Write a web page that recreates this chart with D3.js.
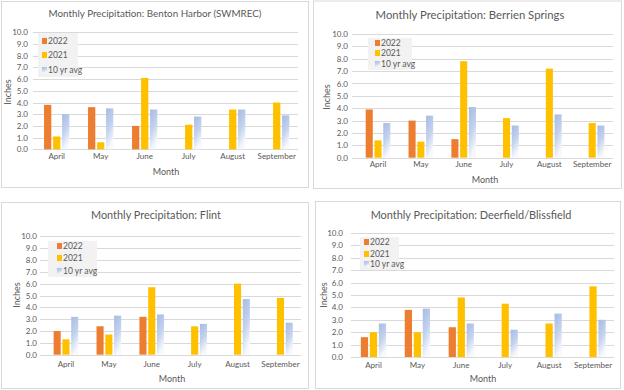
<!DOCTYPE html>
<html><head><meta charset="utf-8">
<script src="https://cdn.jsdelivr.net/npm/d3@7"></script>
<style>
html,body{margin:0;padding:0;background:#fff;}
svg{display:block;}
text{font-family:"Lato","Open Sans","Liberation Sans",sans-serif;fill:#595959;}
</style></head>
<body>
<svg id="chart" width="624" height="390"></svg>
<script>
// ---- DATA ----
const months = ["April","May","June","July","August","September"];
const seriesNames = ["2022","2021","10 yr avg"];
const yTicks = [0,1,2,3,4,5,6,7,8,9,10];
const titles = [
  "Monthly Precipitation: Benton Harbor (SWMREC)",
  "Monthly Precipitation: Berrien Springs",
  "Monthly Precipitation: Flint",
  "Monthly Precipitation: Deerfield/Blissfield"
];
const bentonHarbor2022 = [3.8, 3.6, 2.0, null, null, null];
const bentonHarbor2021 = [1.1, 0.6, 6.1, 2.1, 3.4, 4.0];
const bentonHarborAvg  = [3.0, 3.5, 3.4, 2.8, 3.4, 2.9];
const berrien2022 = [3.9, 3.0, 1.5, null, null, null];
const berrien2021 = [1.4, 1.3, 7.8, 3.2, 7.2, 2.8];
const berrienAvg  = [2.8, 3.4, 4.1, 2.6, 3.5, 2.6];
const flint2022 = [2.0, 2.4, 3.2, null, null, null];
const flint2021 = [1.3, 1.7, 5.7, 2.4, 6.0, 4.8];
const flintAvg  = [3.2, 3.3, 3.4, 2.6, 4.7, 2.7];
const deerfield2022 = [1.6, 3.8, 2.4, null, null, null];
const deerfield2021 = [2.0, 2.0, 4.8, 4.3, 2.7, 5.7];
const deerfieldAvg  = [2.7, 3.9, 2.7, 2.2, 3.5, 3.0];

const stationData = [
  [bentonHarbor2022, bentonHarbor2021, bentonHarborAvg],
  [berrien2022, berrien2021, berrienAvg],
  [flint2022, flint2021, flintAvg],
  [deerfield2022, deerfield2021, deerfieldAvg]
];

// ---- LAYOUT ----
const layouts = [
  {border:[1,1,308,187], tx:155, ty:17, tw:213, y0:149.3, y10:32.3, grid:[33,298], band:[34.7,298.7], tickR:28,
   catY:162, month:[166,175], inches:[8,92], leg:[38,33,78,77], legY:[41,55,70], swX:42},
  {border:[313,0.5,621,188], tx:470, ty:19, tw:189, y0:157.7, y10:34, grid:[352,613], band:[356.6,613.6], tickR:348,
   catY:170, month:[485,183], inches:[327,97], leg:[368,38,412,70], legY:[43,53,64], swX:375},
  {border:[1,202,308,388], tx:156, ty:219, tw:130, y0:354.7, y10:236.3, grid:[40,301], band:[44.5,301.9], tickR:37,
   catY:370, month:[172,382], inches:[17,295], leg:[48,241,97,277], legY:[246,258,271], swX:57},
  {border:[315,201,620,388], tx:471, ty:219, tw:201, y0:357, y10:233, grid:[351,614], band:[351.5,615], tickR:343,
   catY:371, month:[483,382], inches:[324,295], leg:[360,237,399,270], legY:[242,254,264], swX:364}
];
const colors = ["#ED7D31","#FFC000","url(#avgGrad)"];

const svg = d3.select("#chart");
const defs = svg.append("defs");
const g = defs.append("linearGradient").attr("id","avgGrad")
  .attr("x1","0").attr("y1","0").attr("x2","0.35").attr("y2","1");
g.append("stop").attr("offset","0%").attr("stop-color","#a6bbe4");
g.append("stop").attr("offset","55%").attr("stop-color","#c3d2ee");
g.append("stop").attr("offset","100%").attr("stop-color","#f7f9fd");

stationData.forEach((series, i) => {
  const L = layouts[i];
  const p = svg.append("g");
  const [bx0,by0,bx1,by1] = L.border;
  p.append("rect").attr("x",bx0+0.5).attr("y",by0+0.5).attr("width",bx1-bx0).attr("height",by1-by0)
    .attr("fill","#fff").attr("stroke","#d9d9d9").attr("stroke-width",1);

  const t = p.append("text").attr("x",L.tx).attr("y",L.ty).attr("text-anchor","middle")
    .attr("font-size",13).text(titles[i]);
  const tl = t.node().getComputedTextLength();
  if (tl > 0) t.attr("font-size", (13*L.tw/tl).toFixed(2));

  const y = d3.scaleLinear().domain([0,10]).range([L.y0,L.y10]);
  const x = d3.scaleBand().domain(months).range(L.band);
  const bw = x.bandwidth();

  // gridlines
  p.append("g").selectAll("line").data(yTicks).join("line")
    .attr("x1",L.grid[0]).attr("x2",L.grid[1])
    .attr("y1",d=>Math.round(y(d))+0.5).attr("y2",d=>Math.round(y(d))+0.5)
    .attr("stroke","#d9d9d9").attr("stroke-width",1);

  // y tick labels via axis
  const ay = p.append("g").attr("transform",`translate(${L.tickR},0)`)
    .call(d3.axisLeft(y).tickValues(yTicks).tickFormat(d3.format(".1f")).tickSize(0).tickPadding(0));
  ay.select(".domain").remove();
  ay.selectAll("text").attr("font-size",8).attr("font-family",null).attr("fill","#595959");

  // x category labels via axis
  const ax = p.append("g").attr("transform",`translate(0,${L.catY-9})`)
    .call(d3.axisBottom(x).tickSize(0).tickPadding(0));
  ax.select(".domain").remove();
  ax.selectAll("text").attr("font-size",8).attr("font-family",null).attr("fill","#595959").attr("dy","0.71em");

  // bars
  const step = bw*0.205, w = bw*0.165;
  const inner = d3.scaleBand().domain(seriesNames.map((d,k)=>k)).range([bw/2-1.5*step, bw/2+1.5*step]);
  series.forEach((vals, s) => {
    p.append("g").selectAll("rect").data(months.map((m,k)=>({m, v:vals[k]})).filter(d=>d.v!=null))
      .join("rect")
      .attr("x",d=>x(d.m)+inner(s)+(inner.bandwidth()-w)/2)
      .attr("width",w)
      .attr("y",d=>y(d.v)).attr("height",d=>y(0)-y(d.v))
      .attr("fill",colors[s]);
  });

  // axis titles
  p.append("text").attr("x",L.month[0]).attr("y",L.month[1]).attr("text-anchor","middle")
    .attr("font-size",9).text("Month");
  p.append("text").attr("transform",`translate(${L.inches[0]},${L.inches[1]}) rotate(-90)`)
    .attr("text-anchor","middle").attr("dy","0.35em").attr("font-size",9).text("Inches");

  // legend
  const [lx0,ly0,lx1,ly1] = L.leg;
  p.append("rect").attr("x",lx0).attr("y",ly0).attr("width",lx1-lx0).attr("height",ly1-ly0).attr("fill","#f2f2f2");
  seriesNames.forEach((n,s) => {
    p.append("rect").attr("x",L.swX).attr("y",L.legY[s]-3).attr("width",5).attr("height",6).attr("fill",colors[s]);
    p.append("text").attr("x",L.swX+6).attr("y",L.legY[s]).attr("dy","0.35em").attr("font-size",8.5).text(n);
  });
});
</script>
</body></html>
